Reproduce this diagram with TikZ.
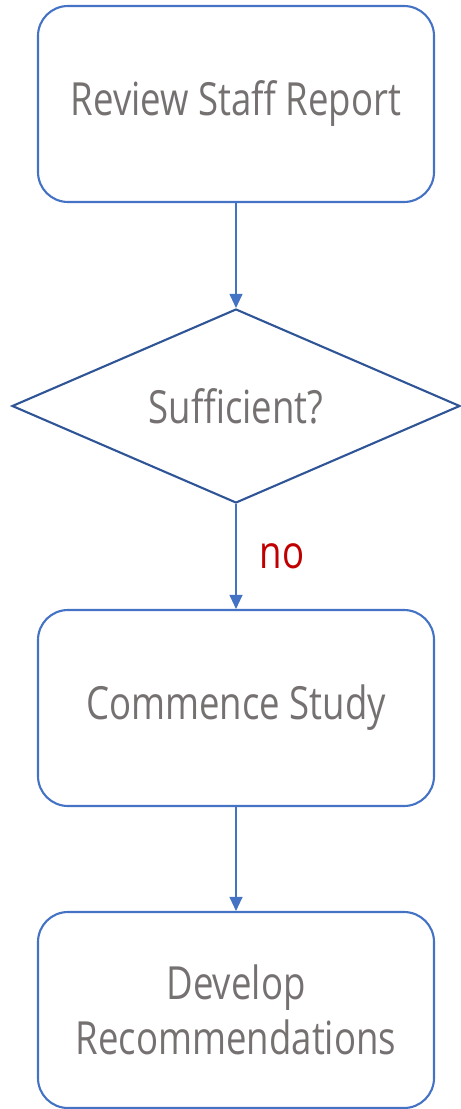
\documentclass[tikz,border=0pt]{standalone}
\usepackage{fontspec}
\setmainfont{Open Sans}[FakeStretch=0.8]
\usetikzlibrary{shapes.geometric,arrows.meta}
\definecolor{boxblue}{HTML}{4472C4}
\definecolor{diablue}{HTML}{2F5597}
\definecolor{txtgray}{HTML}{767171}
\definecolor{nored}{HTML}{C00000}

\begin{document}
\begin{tikzpicture}[
    stepbox/.style={shape=rectangle,rounded corners=0.6cm,draw=boxblue,line width=1.2pt,
      minimum width=7.92cm,minimum height=3.92cm,align=center,text=txtgray,
      font=\fontsize{26}{31}\selectfont},
    decision/.style={shape=diamond,shape aspect=2.3,draw=diablue,line width=1.2pt,inner sep=0pt,
      minimum width=8.96cm,minimum height=3.88cm,text=txtgray,
      font=\fontsize{26}{31}\selectfont},
    flow/.style={draw=boxblue,line width=0.6pt,-{Triangle[width=0.26cm,length=0.28cm]}}]
    \useasboundingbox (0,0) rectangle (9.22,-22.18);

    \node[stepbox] (A0) at (4.72,-2.08) {Review Staff Report};
    \node[decision] (A1) at (4.72,-8.12) {Sufficient?};
    \node[stepbox] (A2) at (4.72,-14.16) {Commence Study};
    \node[stepbox] (A3) at (4.72,-20.20) {Develop\\Recommendations};

    \draw[flow] (A0) -- (A1);
    \draw[flow] (A1) -- node[right=0.35cm,text=nored,font=\fontsize{26}{31}\selectfont] {no} (A2);
    \draw[flow] (A2) -- (A3);
\end{tikzpicture}
\end{document}
